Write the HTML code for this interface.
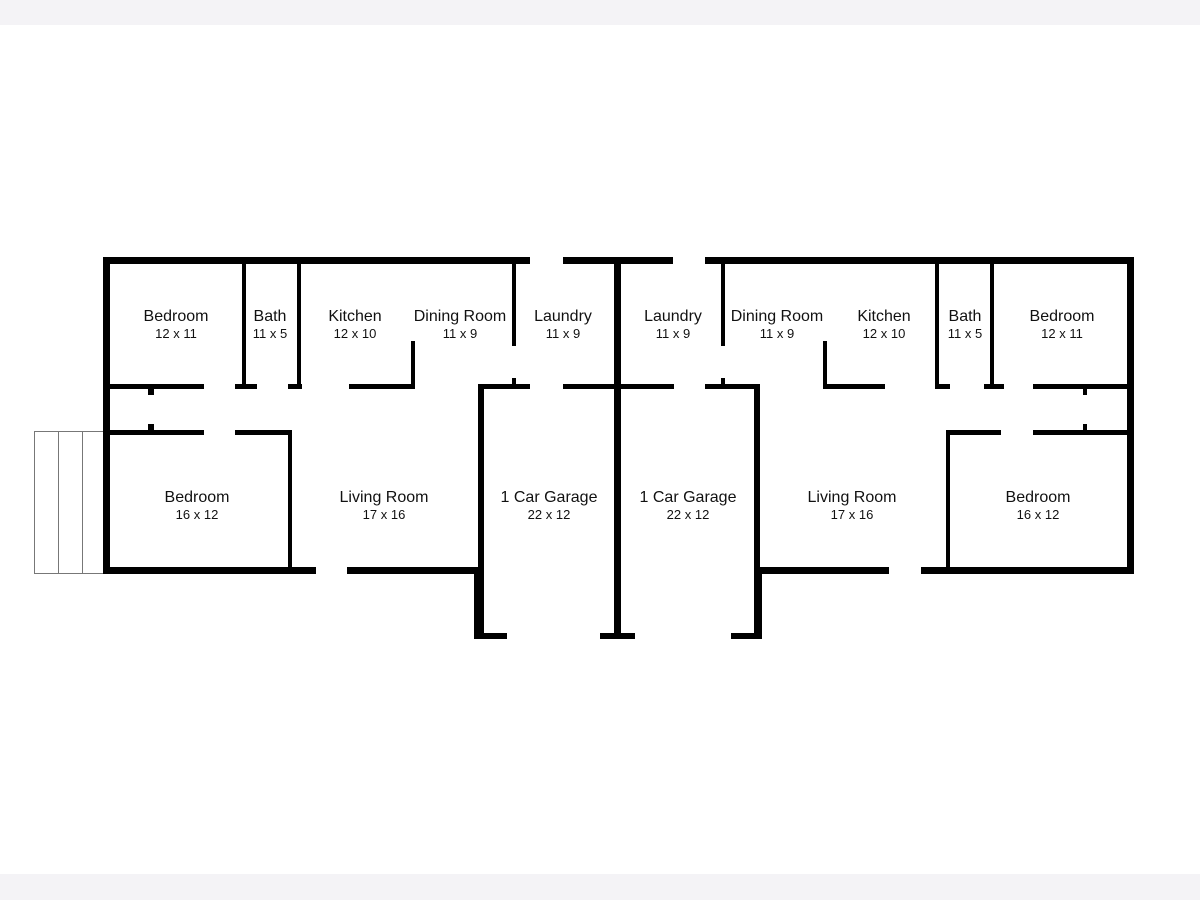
<!DOCTYPE html>
<html><head><meta charset="utf-8"><style>
html,body{margin:0;padding:0;background:#fff;}
svg{display:block;}
text{font-family:"Liberation Sans",Arial,sans-serif;fill:#111;text-anchor:middle;}
.n{font-size:16px;}
.d{font-size:13px;}
</style></head><body>
<svg width="1200" height="900" viewBox="0 0 1200 900" xmlns="http://www.w3.org/2000/svg">
<rect x="0" y="0" width="1200" height="25" fill="#f4f3f6"/>
<rect x="0" y="874" width="1200" height="26" fill="#f4f3f6"/>
<!-- stairs -->
<g fill="none" stroke="#777" stroke-width="1">
<rect x="34.5" y="431.5" width="71" height="142"/>
<line x1="58.5" y1="431" x2="58.5" y2="573"/>
<line x1="82.5" y1="431" x2="82.5" y2="573"/>
</g>
<g fill="#000">
<!-- outer walls -->
<rect x="103" y="257" width="427" height="7"/>
<rect x="563" y="257" width="110" height="7"/>
<rect x="705" y="257" width="428" height="7"/>
<rect x="103" y="257" width="7" height="317"/>
<rect x="1127" y="257" width="7" height="317"/>
<rect x="614" y="257" width="7" height="382"/>
<rect x="600" y="633" width="35" height="6"/>
<!-- left unit -->
<rect x="242" y="260" width="4" height="126"/>
<rect x="297" y="260" width="4" height="126"/>
<rect x="105" y="384" width="99" height="5"/>
<rect x="235" y="384" width="22" height="5"/>
<rect x="288" y="384" width="14" height="5"/>
<rect x="349" y="384" width="66" height="5"/>
<rect x="411" y="341" width="4" height="48"/>
<rect x="148" y="389" width="6" height="6"/>
<rect x="148" y="424" width="6" height="6"/>
<rect x="105" y="430" width="99" height="5"/>
<rect x="235" y="430" width="57" height="5"/>
<rect x="288" y="430" width="4" height="142"/>
<rect x="512" y="260" width="4" height="86"/>
<rect x="512" y="378" width="4" height="10"/>
<rect x="478" y="384" width="52" height="5"/>
<rect x="563" y="384" width="54" height="5"/>
<rect x="478" y="384" width="6" height="254"/>
<rect x="474" y="568" width="5" height="70"/>
<rect x="474" y="633" width="33" height="6"/>
<rect x="103" y="567" width="213" height="7"/>
<rect x="347" y="567" width="132" height="7"/>
<!-- right unit -->
<rect x="721" y="260" width="4" height="86"/>
<rect x="721" y="378" width="4" height="10"/>
<rect x="617" y="384" width="57" height="5"/>
<rect x="705" y="384" width="54" height="5"/>
<rect x="754" y="384" width="6" height="254"/>
<rect x="757" y="568" width="5" height="70"/>
<rect x="731" y="633" width="31" height="6"/>
<rect x="823" y="341" width="4" height="48"/>
<rect x="823" y="384" width="62" height="5"/>
<rect x="935" y="260" width="4" height="126"/>
<rect x="990" y="260" width="4" height="126"/>
<rect x="935" y="384" width="15" height="5"/>
<rect x="984" y="384" width="20" height="5"/>
<rect x="1033" y="384" width="97" height="5"/>
<rect x="1083" y="389" width="4" height="6"/>
<rect x="1083" y="424" width="4" height="6"/>
<rect x="946" y="430" width="55" height="5"/>
<rect x="1033" y="430" width="97" height="5"/>
<rect x="946" y="430" width="4" height="142"/>
<rect x="760" y="567" width="129" height="7"/>
<rect x="921" y="567" width="213" height="7"/>
</g>
<!-- labels -->
<text class="n" x="176" y="321">Bedroom</text><text class="d" x="176" y="338">12 x 11</text>
<text class="n" x="270" y="321">Bath</text><text class="d" x="270" y="338">11 x 5</text>
<text class="n" x="355" y="321">Kitchen</text><text class="d" x="355" y="338">12 x 10</text>
<text class="n" x="460" y="321">Dining Room</text><text class="d" x="460" y="338">11 x 9</text>
<text class="n" x="563" y="321">Laundry</text><text class="d" x="563" y="338">11 x 9</text>
<text class="n" x="197" y="502">Bedroom</text><text class="d" x="197" y="519">16 x 12</text>
<text class="n" x="384" y="502">Living Room</text><text class="d" x="384" y="519">17 x 16</text>
<text class="n" x="549" y="502">1 Car Garage</text><text class="d" x="549" y="519">22 x 12</text>
<text class="n" x="673" y="321">Laundry</text><text class="d" x="673" y="338">11 x 9</text>
<text class="n" x="777" y="321">Dining Room</text><text class="d" x="777" y="338">11 x 9</text>
<text class="n" x="884" y="321">Kitchen</text><text class="d" x="884" y="338">12 x 10</text>
<text class="n" x="965" y="321">Bath</text><text class="d" x="965" y="338">11 x 5</text>
<text class="n" x="1062" y="321">Bedroom</text><text class="d" x="1062" y="338">12 x 11</text>
<text class="n" x="688" y="502">1 Car Garage</text><text class="d" x="688" y="519">22 x 12</text>
<text class="n" x="852" y="502">Living Room</text><text class="d" x="852" y="519">17 x 16</text>
<text class="n" x="1038" y="502">Bedroom</text><text class="d" x="1038" y="519">16 x 12</text>
</svg>
</body></html>
